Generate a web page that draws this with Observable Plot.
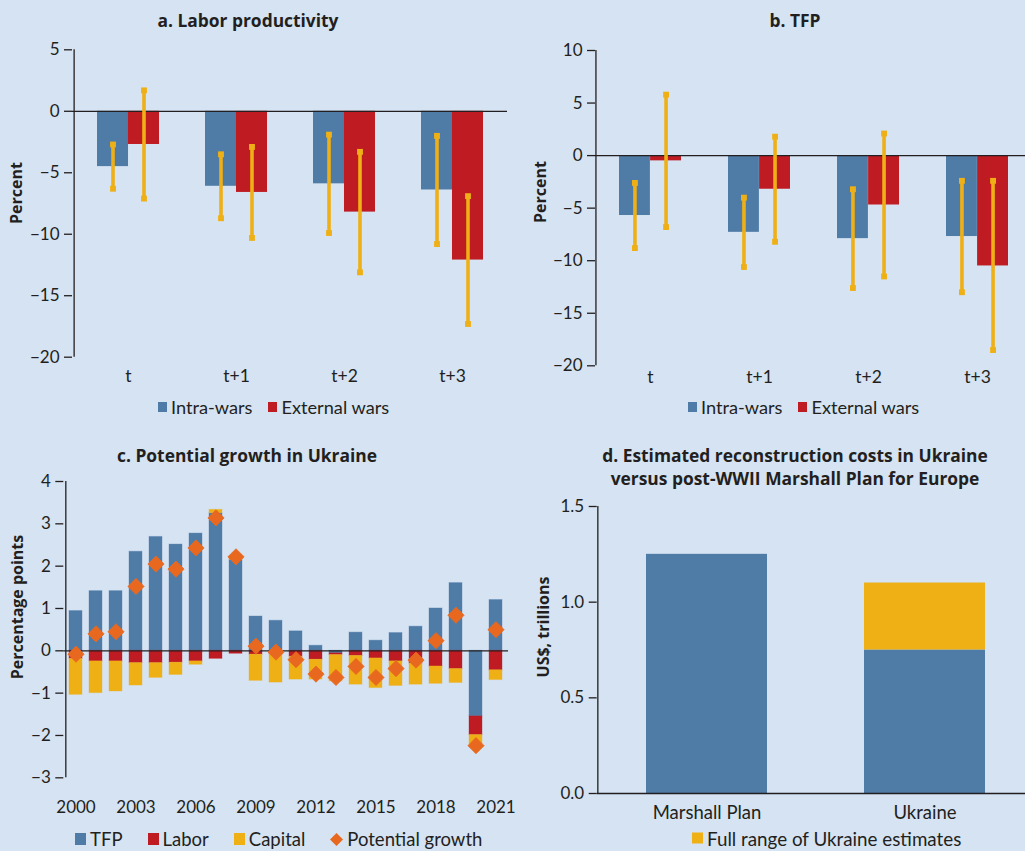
<!DOCTYPE html>
<html><head><meta charset="utf-8">
<script src="https://cdn.jsdelivr.net/npm/d3@7"></script>
<script src="https://cdn.jsdelivr.net/npm/@observablehq/plot@0.6"></script>
<style>
body{margin:0;background:#d5e3f2;font-family:Lato,"Open Sans",sans-serif;color:#231f20;}
#page{position:relative;width:1025px;height:851px;overflow:hidden;background:#d5e3f2;}
.abs{position:absolute;}
.title{font-family:"Open Sans",sans-serif;font-weight:700;font-size:17.4px;text-align:center;white-space:nowrap;transform:translateX(-50%);line-height:23px;}
.ylab{font-family:"Open Sans",sans-serif;font-weight:700;font-size:16px;white-space:nowrap;transform:translate(-50%,-50%) rotate(-90deg);}
.leg{font-size:17px;white-space:nowrap;display:flex;align-items:center;transform:translateY(-50%);}
.leg .sw{display:inline-block;width:9px;height:10px;margin-right:4px;}
.leg .item{display:inline-flex;align-items:center;}
svg{overflow:visible;}
</style></head><body><div id="page"></div>
<script>
// ---------- Data ----------
const periods = ["t", "t+1", "t+2", "t+3"];
const seriesNames = ["Intra-wars", "External wars"];

// a. Labor productivity (percent)
const lpIntra = [-4.5, -6.1, -5.9, -6.4];
const lpIntraLow = [-6.3, -8.7, -9.9, -10.8];
const lpIntraHigh = [-2.7, -3.5, -1.9, -2.0];
const lpExternal = [-2.7, -6.6, -8.2, -12.1];
const lpExternalLow = [-7.1, -10.3, -13.1, -17.3];
const lpExternalHigh = [1.7, -2.9, -3.3, -6.9];

// b. TFP (percent)
const tfpIntra = [-5.7, -7.3, -7.9, -7.7];
const tfpIntraLow = [-8.8, -10.6, -12.6, -13.0];
const tfpIntraHigh = [-2.6, -4.0, -3.2, -2.4];
const tfpExternal = [-0.5, -3.2, -4.7, -10.5];
const tfpExternalLow = [-6.8, -8.2, -11.5, -18.5];
const tfpExternalHigh = [5.8, 1.8, 2.1, -2.4];

// c. Potential growth in Ukraine (percentage points)
const years = [2000, 2001, 2002, 2003, 2004, 2005, 2006, 2007, 2008, 2009, 2010,
               2011, 2012, 2013, 2014, 2015, 2016, 2017, 2018, 2019, 2020, 2021];
const yearTicks = [2000, 2003, 2006, 2009, 2012, 2015, 2018, 2021];
const componentNames = ["TFP", "Labor", "Capital"];
const tfpContribution = [0.94, 1.41, 1.41, 2.34, 2.69, 2.51, 2.77, 3.25, 2.15, 0.81, 0.71,
                         0.46, 0.12, -0.06, 0.43, 0.24, 0.42, 0.57, 1.00, 1.60, -1.55, 1.20];
const laborContribution = [-0.19, -0.25, -0.25, -0.29, -0.29, -0.28, -0.25, -0.19, -0.07, -0.09, -0.08,
                           -0.14, -0.21, -0.04, -0.12, -0.18, -0.25, -0.30, -0.37, -0.43, -0.44, -0.46];
const capitalContribution = [-0.85, -0.75, -0.71, -0.53, -0.35, -0.29, -0.08, 0.08, 0.06, -0.62, -0.67,
                             -0.54, -0.47, -0.62, -0.68, -0.70, -0.58, -0.50, -0.41, -0.33, -0.22, -0.23];
const potentialGrowth = [-0.08, 0.40, 0.45, 1.52, 2.05, 1.93, 2.43, 3.14, 2.22, 0.11, -0.03,
                         -0.21, -0.55, -0.63, -0.37, -0.63, -0.42, -0.22, 0.24, 0.84, -2.24, 0.50];

// d. Reconstruction costs (US$ trillions)
const costCategories = ["Marshall Plan", "Ukraine"];
const costBase = [1.25, 0.75];
const costRange = [0, 0.35];

// ---------- Style ----------
const BLUE = "#4f7ba7", RED = "#be1b23", YELLOW = "#efb016", ORANGE = "#e8681f", INK = "#231f20";
const FONT = "Lato, 'Open Sans', sans-serif";
const page = document.getElementById("page");
const minus = d => (d < 0 ? "\u2212" + Math.abs(d) : String(d));

// offset (px) from the centre of the first band to the start of the range
function bandStartOffset(range, n, pI, pO) {
  const step = (range[1] - range[0]) / (n - pI + 2 * pO);
  return -(step * pO + step * (1 - pI) / 2);
}

function place(node, left, top) {
  const d = document.createElement("div");
  d.className = "abs";
  d.style.left = left + "px";
  d.style.top = top + "px";
  d.appendChild(node);
  page.appendChild(d);
  return d;
}
function html(cls, text, left, top, extra) {
  const d = document.createElement("div");
  d.className = "abs " + cls;
  d.style.left = left + "px";
  d.style.top = top + "px";
  d.innerHTML = text;
  if (extra) Object.assign(d.style, extra);
  page.appendChild(d);
  return d;
}
function legend(items, left, top, gap, fontSize) {
  const d = document.createElement("div");
  d.className = "abs leg";
  d.style.left = left + "px";
  d.style.top = top + "px";
  d.style.fontSize = fontSize + "px";
  items.forEach((it, i) => {
    const s = document.createElement("span");
    s.className = "item";
    if (i > 0) s.style.marginLeft = gap + "px";
    let sw;
    if (it.diamond) {
      sw = `<svg width="13" height="13" style="margin-right:4px"><path d="M6.5 0L13 6.5L6.5 13L0 6.5Z" fill="${it.color}"/></svg>`;
    } else {
      sw = `<span class="sw" style="background:${it.color};width:${it.w}px;height:${it.h}px"></span>`;
    }
    s.innerHTML = sw + `<span>${it.label}</span>`;
    d.appendChild(s);
  });
  page.appendChild(d);
}

// ---------- Panels a & b ----------
function warRows(intra, intraLo, intraHi, ext, extLo, extHi) {
  const rows = [];
  periods.forEach((p, i) => {
    rows.push({period: p, series: seriesNames[0], value: intra[i], lo: intraLo[i], hi: intraHi[i]});
    rows.push({period: p, series: seriesNames[1], value: ext[i], lo: extLo[i], hi: extHi[i]});
  });
  return rows;
}

function warChart({rows, width, height, marginLeft, marginTop, marginBottom, xRange, yDomain, yTicks, tickPadX}) {
  const pI = 0.43, pO = 0.215;
  const step = (xRange[1] - xRange[0]) / (periods.length - pI + 2 * pO);
  const half = step * (1 - pI) / 2;
  const intra = rows.filter(d => d.series === seriesNames[0]);
  const ext = rows.filter(d => d.series === seriesNames[1]);
  const errMarks = (data, dx) => [
    Plot.ruleX(data, {x: "period", y1: "lo", y2: "hi", dx, stroke: YELLOW, strokeWidth: 3.6}),
    Plot.dot(data, {x: "period", y: "lo", dx, symbol: "square", r: 3.3, fill: YELLOW}),
    Plot.dot(data, {x: "period", y: "hi", dx, symbol: "square", r: 3.3, fill: YELLOW})
  ];
  return Plot.plot({
    width, height, marginLeft, marginRight: 0, marginTop, marginBottom,
    style: {background: "transparent", fontFamily: FONT, fontSize: "17px", color: INK},
    x: {domain: periods, range: xRange, paddingInner: pI, paddingOuter: pO, axis: null},
    y: {domain: yDomain, axis: null},
    marks: [
      Plot.barY(intra, {x: "period", y: "value", fill: BLUE, insetRight: half}),
      Plot.barY(ext, {x: "period", y: "value", fill: RED, insetLeft: half}),
      Plot.ruleY([0], {stroke: INK, strokeWidth: 1.3}),
      ...errMarks(intra, -half / 2),
      ...errMarks(ext, half / 2),
      Plot.axisY({ticks: yTicks, tickFormat: minus, tickSize: 8, tickPadding: 5, label: null, stroke: INK, strokeWidth: 1.3}),
      Plot.ruleX([0], {x: () => periods[0], y1: yDomain[0], y2: yDomain[1], stroke: INK, strokeWidth: 1.3,
                       dx: bandStartOffset(xRange, periods.length, pI, pO) + (marginLeft - xRange[0])}),
      Plot.axisX({tickSize: 0, tickPadding: tickPadX, label: null, fontSize: 17.5})
    ]
  });
}

const chartA = warChart({
  rows: warRows(lpIntra, lpIntraLow, lpIntraHigh, lpExternal, lpExternalLow, lpExternalHigh),
  width: 507, height: 370, marginLeft: 72, marginTop: 19.3, marginBottom: 43.3,
  xRange: [72, 507], yDomain: [-20, 5], yTicks: [-20, -15, -10, -5, 0, 5], tickPadX: 12
});
place(chartA, 0, 30);

const chartB = warChart({
  rows: warRows(tfpIntra, tfpIntraLow, tfpIntraHigh, tfpExternal, tfpExternalLow, tfpExternalHigh),
  width: 513, height: 370, marginLeft: 83, marginTop: 20, marginBottom: 34.7,
  xRange: [83, 519.5], yDomain: [-20, 10], yTicks: [-20, -15, -10, -5, 0, 5, 10], tickPadX: 5
});
place(chartB, 512, 30);

// ---------- Panel c ----------
const compRows = [];
[tfpContribution, laborContribution, capitalContribution].forEach((arr, k) => {
  years.forEach((y, i) => compRows.push({year: y, component: componentNames[k], value: arr[i]}));
});
const potRows = years.map((y, i) => ({year: y, value: potentialGrowth[i]}));
const cRange = [63.3, 507.2], cPI = 0.33, cPO = 0.17;

const chartC = Plot.plot({
  width: 508, height: 350, marginLeft: 63.3, marginRight: 0, marginTop: 11, marginBottom: 42.7,
  style: {background: "transparent", fontFamily: FONT, fontSize: "17px", color: INK},
  x: {domain: years, range: cRange, paddingInner: cPI, paddingOuter: cPO, axis: null},
  y: {domain: [-3, 4], axis: null},
  color: {domain: componentNames, range: [BLUE, RED, YELLOW]},
  marks: [
    Plot.barY(compRows, {x: "year", y: "value", fill: "component", stroke: "component", strokeOpacity: 0.35, strokeWidth: 1}),
    Plot.ruleY([0], {stroke: INK, strokeWidth: 1.3}),
    Plot.dot(potRows, {x: "year", y: "value", symbol: "diamond2", r: 7.3, fill: ORANGE, stroke: ORANGE, strokeWidth: 0.8}),
    Plot.axisY({ticks: [-3, -2, -1, 0, 1, 2, 3, 4], tickFormat: minus, tickSize: 8, tickPadding: 5, label: null, stroke: INK, strokeWidth: 1.3}),
    Plot.ruleX([0], {x: () => years[0], y1: -3, y2: 4, stroke: INK, strokeWidth: 1.3,
                     dx: bandStartOffset(cRange, years.length, cPI, cPO)}),
    Plot.axisX({ticks: yearTicks, tickFormat: d => String(d), tickSize: 0, tickPadding: 23, label: null})
  ]
});
place(chartC, 0, 470);

// ---------- Panel d ----------
const costRows = [];
costCategories.forEach((c, i) => costRows.push({category: c, part: "Estimate", value: costBase[i]}));
costCategories.forEach((c, i) => costRows.push({category: c, part: "Full range of Ukraine estimates", value: costRange[i]}));
const dRange = [76.7, 514], dPI = 0.443, dPO = 0.22;

const chartD = Plot.plot({
  width: 505, height: 330, marginLeft: 76.7, marginRight: 0, marginTop: 11, marginBottom: 32,
  style: {background: "transparent", fontFamily: FONT, fontSize: "17px", color: INK},
  x: {domain: costCategories, range: dRange, paddingInner: dPI, paddingOuter: dPO, axis: null},
  y: {domain: [0, 1.5], axis: null},
  color: {domain: ["Estimate", "Full range of Ukraine estimates"], range: [BLUE, YELLOW]},
  marks: [
    Plot.barY(costRows, {x: "category", y: "value", fill: "part"}),
    Plot.ruleY([0], {stroke: INK, strokeWidth: 1.3}),
    Plot.axisY({ticks: [0, 0.5, 1, 1.5], tickFormat: ".1f", tickSize: 8, tickPadding: 5, label: null, stroke: INK, strokeWidth: 1.3}),
    Plot.ruleX([0], {x: () => costCategories[0], y1: 0, y2: 1.5, stroke: INK, strokeWidth: 1.3,
                     dx: bandStartOffset(dRange, costCategories.length, dPI, dPO)}),
    Plot.axisX({tickSize: 0, tickPadding: 12, label: null, fontSize: 18.5})
  ]
});
place(chartD, 520, 495);

// ---------- Titles, axis labels, legends ----------
html("title", "a. Labor productivity", 248, 9);
html("title", "b. TFP", 795, 9);
html("title", "c. Potential growth in Ukraine", 247, 444);
html("title", "d. Estimated reconstruction costs in Ukraine<br>versus post-WWII Marshall Plan for Europe", 795, 444);

html("ylab", "Percent", 16, 193);
html("ylab", "Percent", 540, 192);
html("ylab", "Percentage points", 17, 607);
html("ylab", "US$, trillions", 543, 627);

legend([{label: "Intra-wars", color: BLUE, w: 9, h: 10}, {label: "External wars", color: RED, w: 9, h: 10}], 158, 407, 16, 18.2);
legend([{label: "Intra-wars", color: BLUE, w: 9, h: 10}, {label: "External wars", color: RED, w: 9, h: 10}], 688, 407, 16, 18.2);
legend([{label: "TFP", color: BLUE, w: 11, h: 12}, {label: "Labor", color: RED, w: 11, h: 12},
        {label: "Capital", color: YELLOW, w: 11, h: 12}, {label: "Potential growth", color: ORANGE, diamond: true}], 75, 839, 25, 18.5);
legend([{label: "Full range of Ukraine estimates", color: YELLOW, w: 11, h: 11}], 692, 838, 0, 18.8);
</script></body></html>
